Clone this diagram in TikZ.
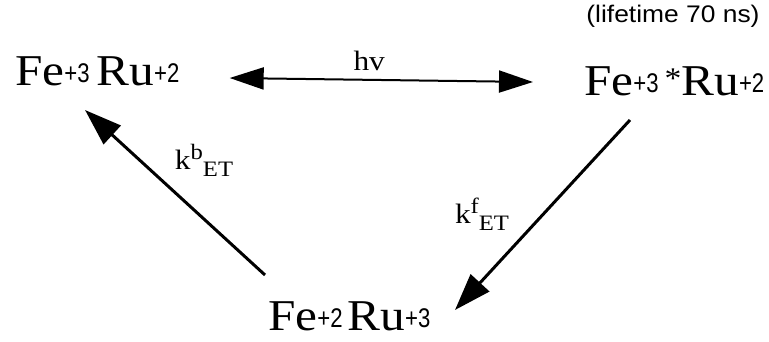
\documentclass[tikz,border=0pt]{standalone}
\usepackage{fontspec}
\setmainfont{Liberation Serif}[FakeStretch=1.12]
\setsansfont{Liberation Sans}[FakeStretch=1.1]
\newfontfamily\chgfont{Liberation Sans}[FakeStretch=0.82]
\usetikzlibrary{arrows.meta,positioning,calc}
\newcommand{\chg}[1]{\raisebox{3pt}{\fontsize{27}{27}\chgfont#1}}
\newcommand{\rate}[1]{k\raisebox{10pt}{\fontsize{22}{22}\selectfont#1}\raisebox{-7pt}{\fontsize{22}{22}\selectfont ET}}
\tikzset{
  species/.style={inner sep=0pt, anchor=base west,
    font=\fontsize{44}{44}\selectfont},
  ratelbl/.style={inner sep=0pt, font=\fontsize{28}{28}\selectfont},
  photarrow/.style={{Triangle[length=34pt,width=22pt]}-{Triangle[length=34pt,width=22pt]},
    line width=2pt, black},
  etarrow/.style={-{Triangle[length=37pt,width=25pt]}, line width=3pt, black}
}
\begin{document}
\begin{tikzpicture}[x=1pt,y=1pt]
  \useasboundingbox (0,0) rectangle (769,341);

  % Species
  \node[species] (ground) at (15,256) {Fe\chg{+3}\kern7pt Ru\chg{+2}};
  \node[species] (excited) at (584,246)
    {Fe\chg{+3}\kern6pt\raisebox{7pt}{\fontsize{30}{30}\selectfont*}Ru\chg{+2}};
  \node[species] (csep) at (268,11) {Fe\chg{+2}\kern5pt Ru\chg{+3}};
  \node[inner sep=0pt, font=\sffamily\fontsize{24}{24}\selectfont] (life)
    at (673,325) {(lifetime 70 ns)};

  % Excitation
  \draw[photarrow] ([xshift=50pt,yshift=7pt]ground.base east)
    -- ([xshift=-51pt,yshift=13pt]excited.base west)
    node[pos=0.46, above=8pt, ratelbl] (hv) {hv};

  % Electron transfer
  \draw[etarrow] ([xshift=46pt,yshift=-25pt]excited.base west)
    -- ([xshift=187pt,yshift=20pt]csep.base west);
  \draw[etarrow] ([xshift=-3pt,yshift=55pt]csep.base west)
    -- ([xshift=70pt,yshift=-25pt]ground.base west);
  \node[ratelbl] (kb) at (204,181) {\rate{b}};
  \node[ratelbl] (kf) at (482,127) {\rate{f}};
\end{tikzpicture}
\end{document}
